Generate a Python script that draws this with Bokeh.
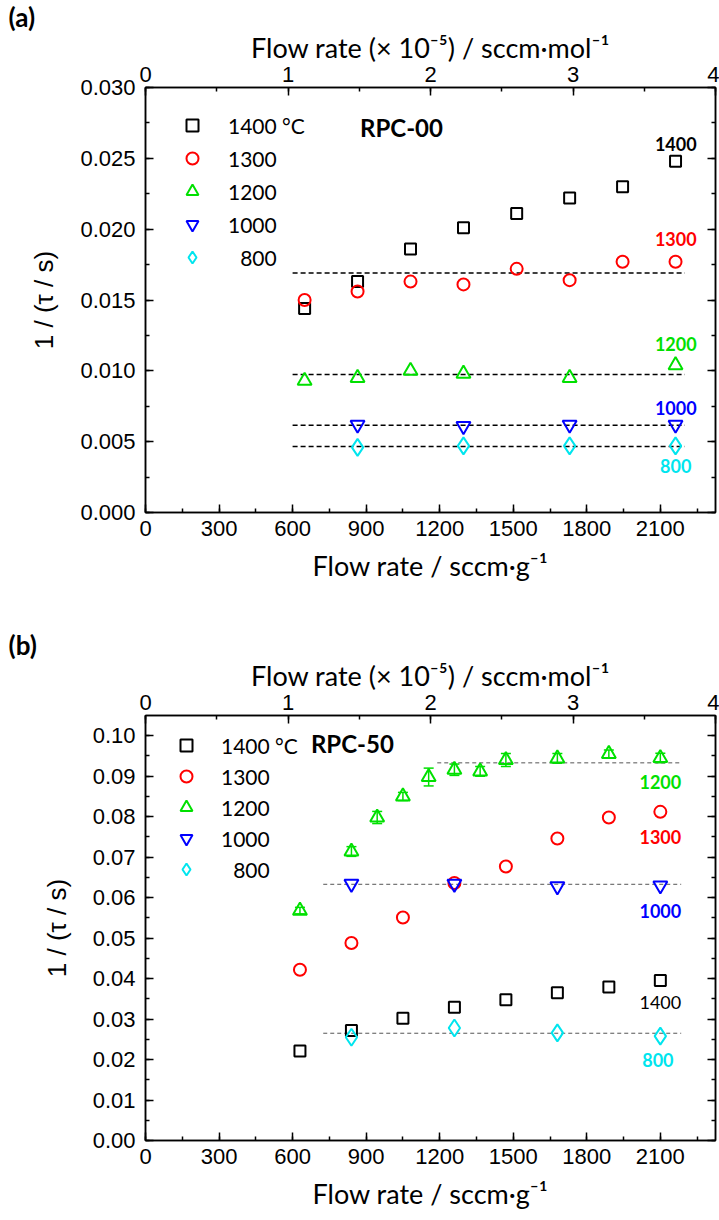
from bokeh.plotting import figure
from bokeh.models import (Range1d, LinearAxis, SingleIntervalTicker, NumeralTickFormatter,
                          Legend, LegendItem, Label, ColumnDataSource, CustomJSTickFormatter,
                          Whisker, TeeHead)
from bokeh.layouts import column
from bokeh.embed import file_html
from bokeh.resources import INLINE
from bokeh.core.properties import value

# ---------------- data: panel (a) RPC-00 ----------------
a_x_full = [649, 865, 1081, 1297, 1514, 1730, 1946, 2162]
a_1400 = [0.0144, 0.0163, 0.0186, 0.0201, 0.0211, 0.0222, 0.0230, 0.0248]
a_1300 = [0.0150, 0.0156, 0.0163, 0.0161, 0.0172, 0.0164, 0.0177, 0.0177]
a_x_1200 = [649, 865, 1081, 1297, 1730, 2162]
a_1200 = [0.0093, 0.0095, 0.0100, 0.0098, 0.0095, 0.0104]
a_x_low = [865, 1297, 1730, 2162]
a_1000 = [0.0062, 0.0061, 0.0062, 0.0062]
a_800 = [0.0046, 0.0047, 0.0047, 0.0047]
a_avg_x = [600, 2200]
a_avg_1300 = 0.0169
a_avg_1200 = 0.00975
a_avg_1000 = 0.00616
a_avg_800 = 0.00466

# ---------------- data: panel (b) RPC-50 ----------------
b_x_full = [630, 840, 1050, 1260, 1470, 1680, 1890, 2100]
b_1400 = [0.0221, 0.0272, 0.0302, 0.0329, 0.0348, 0.0365, 0.0379, 0.0395]
b_1300 = [0.0422, 0.0488, 0.0551, 0.0636, 0.0677, 0.0746, 0.0798, 0.0812]
b_x_1200 = [630, 840, 945, 1050, 1155, 1260, 1365, 1470, 1680, 1890, 2100]
b_1200 = [0.0568, 0.0714, 0.0798, 0.0850, 0.0898, 0.0916, 0.0912, 0.0940, 0.0944, 0.0955, 0.0945]
b_1200_err = [0.0008, 0.0012, 0.0015, 0.0010, 0.0022, 0.0014, 0.0012, 0.0016, 0.0012, 0.0010, 0.0012]
b_x_low = [840, 1260, 1680, 2100]
b_1000 = [0.0634, 0.0634, 0.0628, 0.0630]
b_800 = [0.0255, 0.0278, 0.0266, 0.0258]
b_avg_x_1200 = [1190, 2185]
b_avg_x_low = [725, 2185]
b_avg_1200 = 0.0933
b_avg_1000 = 0.0633
b_avg_800 = 0.0265

temps = ["1400 °C", "1300", "1200", "1000", "\u2007800"]
colors = ["black", "#ff0000", "#00e000", "#0000ff", "#00e5ee"]
markers = ["square", "circle", "triangle", "inverted_triangle", "diamond"]
msizes = [11, 12, 14, 14, 17]

# end labels
a_lab_text = ["1400", "1300", "1200", "1000", "800"]
a_lab_x = [2163, 2163, 2163, 2163, 2163]
a_lab_y = [0.0260, 0.0193, 0.0119, 0.0074, 0.0033]
b_lab_text = ["1200", "1300", "1000", "1400", "800"]
b_lab_col = [colors[2], colors[1], colors[3], colors[0], colors[4]]
b_lab_style = ["bold", "bold", "bold", "normal", "bold"]
b_lab_x = [2100, 2100, 2100, 2100, 2090]
b_lab_y = [0.0886, 0.0749, 0.0566, 0.0340, 0.0199]

TICK_FONT = "Liberation Sans"
TITLE_FONT = "Lato"


def style_axis(ax):
    ax.major_tick_in = 8
    ax.major_tick_out = 0
    ax.minor_tick_in = 4
    ax.minor_tick_out = 0
    ax.axis_line_color = "black"
    ax.axis_line_width = 1.5
    ax.major_tick_line_width = 1.5
    ax.minor_tick_line_width = 1.5
    ax.major_tick_line_color = "black"
    ax.minor_tick_line_color = "black"
    ax.major_label_text_font = TICK_FONT
    ax.major_label_text_font_size = "22px"
    ax.major_label_text_color = "black"
    ax.axis_label_text_font = TITLE_FONT
    ax.axis_label_text_font_size = "27px"
    ax.axis_label_text_font_style = "normal"
    ax.axis_label_text_color = "black"


def make_panel(ymax, yint, yfmt, top_border, bottom_border, letter):
    p = figure(frame_width=570, frame_height=425,
               x_range=Range1d(0, 2325), y_range=Range1d(0, ymax),
               output_backend="svg", toolbar_location=None,
               min_border_left=145, min_border_right=4,
               min_border_top=top_border, min_border_bottom=bottom_border,
               x_axis_label="Flow rate / sccm·g⁻¹", y_axis_label="1 / (τ / s)",
               title=letter)
    p.title.align = "left"
    p.title.offset = -137
    p.title.standoff = -10
    p.title.text_font = TITLE_FONT
    p.title.text_font_size = "26px"
    p.title.text_font_style = "bold"
    p.title.text_color = "black"

    p.xgrid.visible = False
    p.ygrid.visible = False
    p.outline_line_color = "black"
    p.outline_line_width = 1.5
    p.background_fill_color = "white"
    p.border_fill_color = "white"

    p.xaxis[0].ticker = SingleIntervalTicker(interval=300, num_minor_ticks=2)
    p.yaxis[0].ticker = SingleIntervalTicker(interval=yint, num_minor_ticks=2)
    p.yaxis[0].formatter = NumeralTickFormatter(format=yfmt)
    style_axis(p.xaxis[0])
    style_axis(p.yaxis[0])
    p.yaxis[0].axis_label_text_font = TICK_FONT
    p.yaxis[0].axis_label_text_font_size = "26px"
    p.xaxis[0].major_label_standoff = 8
    p.xaxis[0].axis_label_standoff = 10
    p.yaxis[0].major_label_standoff = 10
    p.yaxis[0].axis_label_standoff = 18

    p.extra_x_ranges = {"top": Range1d(0, 4)}
    top = LinearAxis(x_range_name="top",
                     ticker=SingleIntervalTicker(interval=1, num_minor_ticks=2),
                     axis_label="Flow rate (× 10⁻⁵) / sccm·mol⁻¹")
    style_axis(top)
    top.major_label_standoff = 6
    top.axis_label_standoff = 0
    p.add_layout(top, "above")

    right = LinearAxis(ticker=SingleIntervalTicker(interval=yint, num_minor_ticks=2),
                       formatter=CustomJSTickFormatter(code="return ''"))
    style_axis(right)
    right.major_label_standoff = 0
    p.add_layout(right, "right")
    return p


def add_series(p, xs_list, ys_list, legend_loc, glyph_h, spacing, standoff):
    items = []
    for i, (xs, ys) in enumerate(zip(xs_list, ys_list)):
        r = p.scatter(xs, ys, marker=markers[i], size=msizes[i],
                      fill_color=None, line_color=colors[i], line_width=2)
        items.append(LegendItem(label=temps[i], renderers=[r]))
    leg = Legend(items=items, location=legend_loc, glyph_height=glyph_h, label_height=glyph_h,
                 glyph_width=30, spacing=spacing, padding=0, margin=0, label_standoff=standoff,
                 background_fill_alpha=0, border_line_color=None,
                 label_text_font=TITLE_FONT, label_text_font_size="21px",
                 label_text_color="black")
    p.add_layout(leg, "center")


# ---------------- panel (a) ----------------
pa = make_panel(0.030, 0.005, "0.000", 87, 98, "(a)")
for v in [a_avg_1300, a_avg_1200, a_avg_1000, a_avg_800]:
    pa.line(a_avg_x, [v, v], line_color="black", line_width=1.5, line_dash="5 3")
add_series(pa, [a_x_full, a_x_full, a_x_1200, a_x_low, a_x_low],
           [a_1400, a_1300, a_1200, a_1000, a_800], (32, 240), 30, 3, 21)
pa.text(x="x", y="y", text="t", source=ColumnDataSource(dict(x=a_lab_x, y=a_lab_y, t=a_lab_text, c=colors)),
        text_color="c", text_font=value(TITLE_FONT), text_font_size="18px", text_font_style="bold",
        text_align="center", text_baseline="middle")
pa.add_layout(Label(x=1044, y=0.0272, text="RPC-00", text_font=TITLE_FONT, text_font_size="24px",
                    text_font_style="bold", text_align="center", text_baseline="middle",
                    text_color="black"))

# ---------------- panel (b) ----------------
pb = make_panel(0.105, 0.01, "0.00", 105, 80, "(b)")
pb.line(b_avg_x_1200, [b_avg_1200, b_avg_1200], line_color="#555555", line_width=1, line_dash="4 3")
for v in [b_avg_1000, b_avg_800]:
    pb.line(b_avg_x_low, [v, v], line_color="#555555", line_width=1, line_dash="4 3")
err_src = ColumnDataSource(dict(x=b_x_1200,
                                lo=[y - e for y, e in zip(b_1200, b_1200_err)],
                                hi=[y + e for y, e in zip(b_1200, b_1200_err)]))
pb.add_layout(Whisker(base="x", lower="lo", upper="hi", source=err_src, line_color=colors[2],
                      line_width=1.5,
                      upper_head=TeeHead(size=10, line_color=colors[2], line_width=1.5),
                      lower_head=TeeHead(size=10, line_color=colors[2], line_width=1.5)))
add_series(pb, [b_x_full, b_x_full, b_x_1200, b_x_low, b_x_low],
           [b_1400, b_1300, b_1200, b_1000, b_800], (26, 256), 30, 1, 20)
pb.text(x="x", y="y", text="t", source=ColumnDataSource(dict(x=b_lab_x, y=b_lab_y, t=b_lab_text,
                                                             c=b_lab_col, s=b_lab_style)),
        text_color="c", text_font=value(TITLE_FONT), text_font_size="18px", text_font_style="s",
        text_align="center", text_baseline="middle")
pb.add_layout(Label(x=844, y=0.0980, text="RPC-50", text_font=TITLE_FONT, text_font_size="24px",
                    text_font_style="bold", text_align="center", text_baseline="middle",
                    text_color="black"))

layout = column(pa, pb, spacing=0)
open("out.html", "w").write(file_html(layout, INLINE))
